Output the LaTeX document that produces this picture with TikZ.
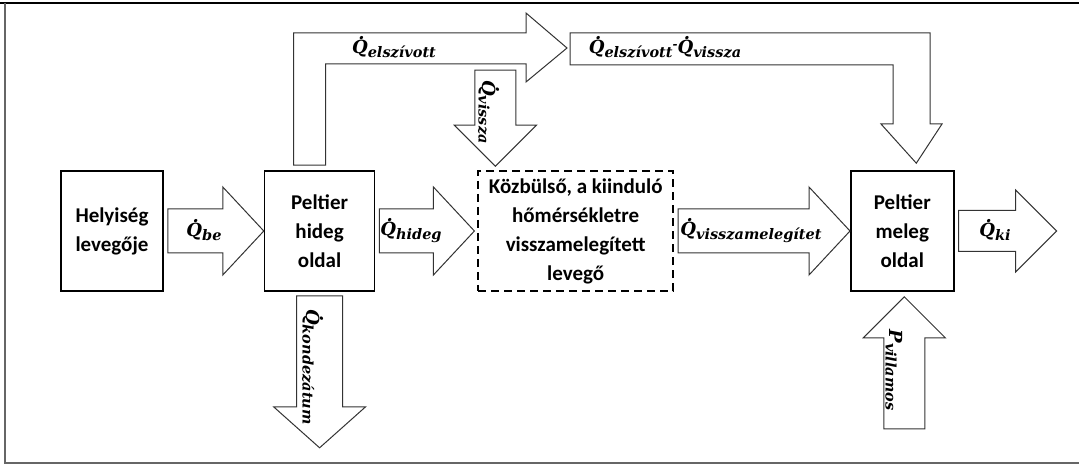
\documentclass[tikz,border=0pt]{standalone}
\usepackage{amsmath}
\usepackage{fontspec}
\setmainfont{Carlito}
\newfontfamily\lblfont{DejaVu Serif}
\usetikzlibrary{positioning,calc}

% heat flow label: dotted Q with a lowered subscript
\newcommand\hq[1]{\ooalign{Q\cr\hfil\kern3pt\raisebox{14pt}{.}\hfil\cr}\raisebox{-4pt}{\fontsize{14.5}{15}\selectfont #1}}

\begin{document}
\begin{tikzpicture}[x=1pt,y=-1pt,
	main node/.style={draw,line width=1.6pt,minimum height=120pt,align=center,
		font=\bfseries\fontsize{21}{29}\selectfont},
	lbl/.style={inner sep=0pt,font=\lblfont\bfseries\itshape\fontsize{18}{20}\selectfont},
	flow/.style={draw=black!80,line width=1pt,fill=white,line join=miter},
	fat/.style={flow,to path={
		let \p1=($(\tikztostart)!4pt!(\tikztotarget)$), \p2=(\tikztotarget),
		\p3=($(\p2)!41pt!(\p1)$) in
		($(\p1)!#1!90:(\p2)$) -- ($(\p3)!#1!-90:(\p1)$) -- ($(\p3)!2*#1!-90:(\p1)$)
		-- (\p2) -- ($(\p3)!2*#1!90:(\p1)$) -- ($(\p3)!#1!90:(\p1)$)
		-- ($(\p1)!#1!-90:(\p2)$) -- cycle}},
	fat/.default=21pt]

	\useasboundingbox (0,0) rectangle (1079,465);
	\draw[line width=2pt] (0,3) -- (1079,3);
	\draw[black!60,line width=1.2pt] (5,3) -- (5,463) -- (1079,463);

	\node[main node,minimum width=102pt] (1) at (112,231) {Helyiség\\levegője};
	\node[main node,minimum width=110pt] (2) [right=100pt of 1] {Peltier\\hideg\\oldal};
	\node[main node,minimum width=195pt,dash pattern=on 8pt off 5pt] (3) [right=102pt of 2]
		{Közbülső, a kiinduló\\hőmérsékletre\\visszamelegített\\levegő};
	\node[main node,minimum width=103pt] (4) [right=176pt of 3] {Peltier\\meleg\\oldal};

	\coordinate (kond) at ([yshift=-156pt]2.south);
	\coordinate (pvill) at ([xshift=2pt,yshift=-141pt]4.south);
	\coordinate (kiout) at ([xshift=102pt]4.east);
	\coordinate (vissza) at ([xshift=18pt,yshift=104pt]3.north west);
	\coordinate (split) at (567,48);
	\coordinate (meltop) at ([xshift=14pt,yshift=7pt]4.north);

	\draw[fat=22pt] (1.east) to (2.west);
	\draw[fat=22pt] (2.east) to ([xshift=-3pt]3.west);
	\draw[fat=22pt] (3.east) to (4.west);
	\draw[fat=20.5pt] (4.east) to (kiout);
	\draw[fat=23pt] (2.south) to (kond);
	\draw[fat=20.5pt] (pvill) to ([xshift=2pt,yshift=-5pt]4.south);
	\draw[fat=20.5pt] (vissza) to ([xshift=18pt,yshift=4pt]3.north west);

	\draw[flow] ([xshift=-26pt,yshift=5pt]2.north) |- (526,33) -- (526,13) -- (split)
		-- (526,82) -- (526,64) -| ([xshift=6pt,yshift=5pt]2.north) -- cycle;
	\draw[flow] (570,33) -- (930,33) -- (930,124) -- (942,124) -- (meltop)
		-- (881,124) -- (893,124) -- (893,65) -- (570,65) -- cycle;

	\node[lbl] (be) at (204,232) {\hq{be}};
	\node[lbl] (hideg) at (411,232) {\hq{hideg}};
	\node[lbl] (meleg) at (751,232) {\hq{visszamelegítet}};
	\node[lbl] (ki) at (995,232) {\hq{ki}};
	\node[lbl] (elsz) at (394,49) {\hq{elszívott}};
	\node[lbl] (marad) at (665,49) {\hq{elszívott}\raisebox{5pt}{\fontsize{12}{12}\selectfont-}\hq{vissza}};
	\node[lbl,rotate=-90] (vis) at (487,112) {\hq{vissza}};
	\node[lbl,rotate=-90] (kd) at (311,367) {\hq{kondezátum}};
	\node[lbl,rotate=-90] (pv) at (894,370) {P\raisebox{-4pt}{\fontsize{14.5}{15}\selectfont villamos}};

\end{tikzpicture}
\end{document}
